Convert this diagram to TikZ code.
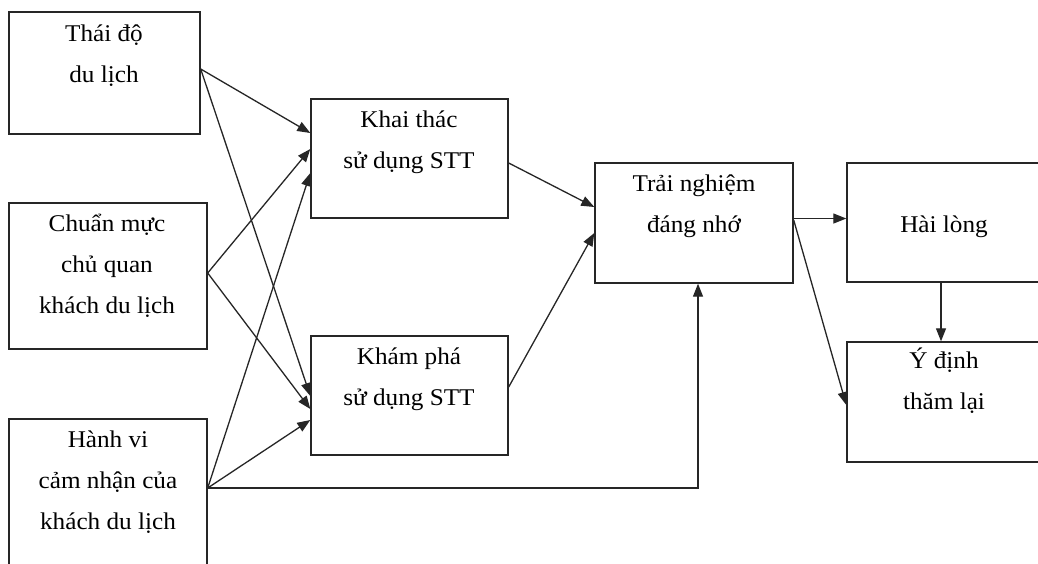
\documentclass[tikz,border=0pt]{standalone}
\usepackage{fontspec}
\setmainfont{Liberation Serif}[FakeStretch=1.05]
\usetikzlibrary{arrows.meta}
\begin{document}
\begin{tikzpicture}[x=1pt,y=-1pt,
  box/.style={draw=black!85, line width=1.4pt, rectangle, inner sep=0pt},
  lbl/.style={anchor=north, inner sep=0pt, align=center, font=\fontsize{24}{41}\selectfont},
  conn/.style={draw=black!85, line width=1.3pt, -{Triangle[length=13pt,width=10pt]}},
  plain/.style={draw=black!85, line width=1.3pt}]
\useasboundingbox (0,0) rectangle (1038,563);
\clip (0,0) rectangle (1038,563);
\fill[white] (0,0) rectangle (1038,563);
% boxes
\node[box, minimum width=191pt, minimum height=122pt] (A) at (104.5,73) {};
\node[box, minimum width=198pt, minimum height=146pt] (B) at (108,276) {};
\node[box, minimum width=198pt, minimum height=181pt] (C) at (108,509.5) {};
\node[box, minimum width=197pt, minimum height=119pt] (D) at (409.5,158.5) {};
\node[box, minimum width=197pt, minimum height=119pt] (E) at (409.5,395.5) {};
\node[box, minimum width=198pt, minimum height=120pt] (F) at (694,223) {};
\node[box, minimum width=193pt, minimum height=119pt] (G) at (943.5,222.5) {};
\node[box, minimum width=193pt, minimum height=120pt] (H) at (943.5,402) {};
% texts
\node[lbl] (tA) at (104,11) {\rule{0pt}{30pt}Thái độ\\du lịch};
\node[lbl] (tB) at (107,201) {\rule{0pt}{30pt}Chuẩn mực\\chủ quan\\khách du lịch};
\node[lbl] (tC) at (108,417) {\rule{0pt}{30pt}Hành vi\\cảm nhận của\\khách du lịch};
\node[lbl] (tD) at (409,97) {\rule{0pt}{30pt}Khai thác\\sử dụng STT};
\node[lbl] (tE) at (409,334) {\rule{0pt}{30pt}Khám phá\\sử dụng STT};
\node[lbl] (tF) at (694,161) {\rule{0pt}{30pt}Trải nghiệm\\đáng nhớ};
\node[lbl] (tG) at (944,202) {\rule{0pt}{30pt}Hài lòng};
\node[lbl] (tH) at (944,338) {\rule{0pt}{30pt}Ý định\\thăm lại};
% connectors
\draw[conn] ([yshift=4pt]A.east) -- ([yshift=25.5pt]D.west);
\draw[conn] ([yshift=4pt]A.east) -- ([yshift=-0.5pt]E.west);
\draw[conn] ([yshift=3pt]B.east) -- ([yshift=9.5pt]D.west);
\draw[conn] ([yshift=3pt]B.east) -- ([yshift=-13.5pt]E.west);
\draw[conn] ([yshift=21.5pt]C.east) -- ([yshift=-14.5pt]D.west);
\draw[conn] ([yshift=21.5pt]C.east) -- ([yshift=-24.5pt]E.west);
\draw[conn] ([yshift=21.5pt]C.east) -| ([xshift=4pt]F.south);
\draw[conn] ([yshift=-4.5pt]D.east) -- ([yshift=16pt]F.west);
\draw[conn] ([yshift=8.5pt]E.east) -- ([yshift=-10pt]F.west);
\draw[conn] ([yshift=4.5pt]F.east) -- ([yshift=4pt]G.west);
\draw[conn] ([yshift=3pt]F.east) -- ([yshift=-3pt]H.west);
\draw[conn] ([xshift=-2.5pt]G.south) -- ([xshift=-2.5pt]H.north);
\end{tikzpicture}
\end{document}
